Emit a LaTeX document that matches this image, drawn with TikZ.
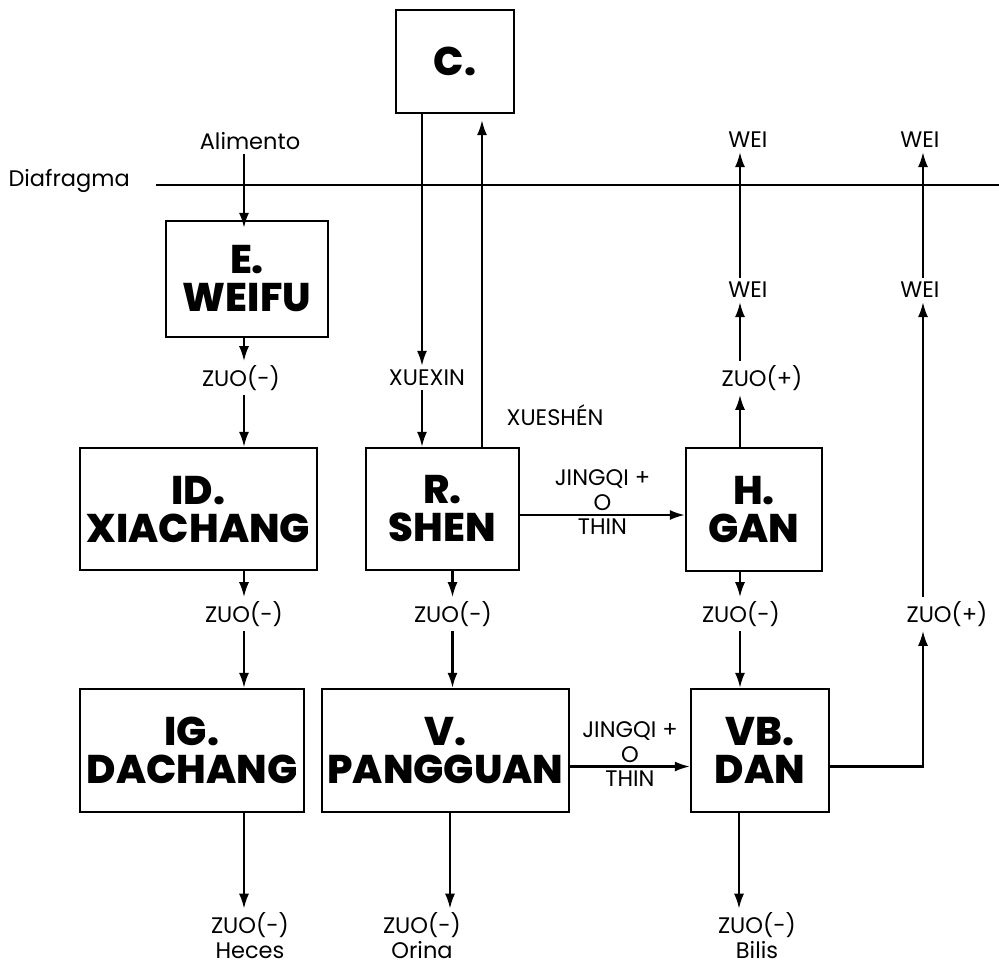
\documentclass[tikz,border=0pt]{standalone}
\usepackage{fontspec}
\setmainfont{Poppins}
\newfontfamily\boxfont{Poppins ExtraBold}
\usetikzlibrary{arrows.meta, positioning, calc}

\begin{document}
\begin{tikzpicture}[
        x=1pt, y=-1pt,
        box/.style={rectangle, draw=black, line width=2.2pt, fill=none, align=center, inner sep=0pt,
            font=\boxfont\fontsize{40}{38}\selectfont},
        lbl/.style={align=center, inner sep=4pt, font=\fontsize{22.5}{25}\selectfont},
        arrow/.style={-{Latex[length=15pt,width=10pt]}, draw=black, line width=2.2pt}
    ]
        \useasboundingbox (0,0) rectangle (999,967);

        % boxes
        \node[box, minimum width=118pt, minimum height=103pt] (heart) at (455,61.5) {C.};
        \node[box, minimum width=162pt, minimum height=116pt] (weifu) at (247,279) {E.\\WEIFU};
        \node[box, minimum width=237pt, minimum height=122pt] (xiachang) at (198.5,509) {ID.\\XIACHANG};
        \node[box, minimum width=153pt, minimum height=122pt] (shen) at (442.5,509) {R.\\SHEN};
        \node[box, minimum width=136pt, minimum height=123pt] (gan) at (754,509.5) {H.\\GAN};
        \node[box, minimum width=224pt, minimum height=123pt] (dachang) at (192,750.5) {IG.\\DACHANG};
        \node[box, minimum width=247pt, minimum height=123pt] (pangguan) at (445.5,750.5) {V.\\PANGGUAN};
        \node[box, minimum width=138pt, minimum height=123pt] (dan) at (760,750.5) {VB.\\DAN};

        % labels
        \node[lbl, anchor=east] (diafragma) at (134,181) {Diafragma};
        \node[lbl] (alimento) at (250,141) {Alimento};
        \node[lbl] (weiTopA) at (748,140) {WEI};
        \node[lbl] (weiTopB) at (920,140) {WEI};
        \node[lbl] (weiMidA) at (748,290) {WEI};
        \node[lbl] (weiMidB) at (920,290) {WEI};
        \node[lbl] (zuoGanUp) at (762,378) {ZUO(+)};
        \node[lbl] (zuoWeifu) at (241,378) {ZUO(-)};
        \node[lbl] (xuexin) at (427,378) {XUEXIN};
        \node[lbl] (xueshen) at (555,415) {XUESHÉN};
        \node[lbl] (zuoXia) at (244,614) {ZUO(-)};
        \node[lbl] (zuoShen) at (453,614) {ZUO(-)};
        \node[lbl] (zuoGan) at (741,614) {ZUO(-)};
        \node[lbl] (zuoDanUp) at (947,614) {ZUO(+)};
        \node[lbl] (heces) at (250,936) {ZUO(-)\\Heces};
        \node[lbl] (orina) at (422,936) {ZUO(-)\\Orina};
        \node[lbl] (bilis) at (757,936) {ZUO(-)\\Bilis};
        \coordinate (diaEnd) at (999,185);

        % diaphragm
        \draw[line width=1.6pt] ([xshift=22pt]diafragma.east |- diaEnd) -- (diaEnd);

        % stomach / small / large intestine
        \draw[arrow] ([xshift=-3pt]weifu.north |- alimento.south) -- ([xshift=-3pt,yshift=-8pt]weifu.north);
        \draw[arrow] ([xshift=-3pt]weifu.south) -- ([xshift=-3pt]weifu.south |- zuoWeifu.north);
        \draw[arrow] ([xshift=-3pt]weifu.south |- zuoWeifu.south) -- ([xshift=-3pt]weifu.south |- xiachang.north);
        \draw[arrow] ([xshift=45.5pt]xiachang.south) -- ([xshift=45.5pt]xiachang.south |- zuoXia.north);
        \draw[arrow] ([xshift=45.5pt]xiachang.south |- zuoXia.south) -- ([xshift=45.5pt]xiachang.south |- dachang.north);
        \draw[arrow] ([xshift=52pt]dachang.south) -- ([xshift=52pt]dachang.south |- heces.north);

        % heart / kidney / bladder
        \draw[arrow] ([xshift=-33pt]heart.south) -- ([xshift=-33pt]heart.south |- xuexin.north);
        \draw[arrow] ([xshift=-20.5pt]shen.north |- xuexin.south) -- ([xshift=-20.5pt]shen.north);
        \draw[arrow] ([xshift=39.5pt]shen.north) -- ([xshift=39.5pt,yshift=-6pt]shen.north |- heart.south);
        \draw[arrow] ([xshift=10pt]shen.south) -- ([xshift=10pt]shen.south |- zuoShen.north);
        \draw[arrow] ([xshift=10pt]shen.south |- zuoShen.south) -- ([xshift=10pt]shen.south |- pangguan.north);
        \draw[arrow] ([xshift=4.5pt]pangguan.south) -- ([xshift=4.5pt]pangguan.south |- orina.north);

        % liver / gallbladder
        \draw[arrow] ([yshift=-6pt]shen.east) -- ([yshift=-6pt]shen.east -| gan.west)
            node[midway, above, lbl, inner sep=3pt] {JINGQI +\\O}
            node[midway, below, lbl, inner sep=3pt] {THIN};
        \draw[arrow] ([yshift=-16pt]pangguan.east) -- ([yshift=-16pt]pangguan.east -| dan.west)
            node[midway, above, lbl, inner sep=3pt] {JINGQI +\\O}
            node[midway, below, lbl, inner sep=3pt] {THIN};
        \draw[arrow] ([xshift=-14pt]gan.north) -- ([xshift=-14pt]gan.north |- zuoGanUp.south);
        \draw[arrow] ([xshift=-14pt]gan.north |- zuoGanUp.north) -- ([xshift=-14pt]gan.north |- weiMidA.south);
        \draw[arrow] ([xshift=-14pt]gan.north |- weiMidA.north) -- ([xshift=-14pt]gan.north |- weiTopA.south);
        \draw[arrow] ([xshift=-14pt]gan.south) -- ([xshift=-14pt]gan.south |- zuoGan.north);
        \draw[arrow] ([xshift=-14pt]gan.south |- zuoGan.south) -- ([xshift=-14pt]gan.south |- dan.north);
        \draw[arrow] ([xshift=-21pt]dan.south) -- ([xshift=-21pt]dan.south |- bilis.north);
        \draw[arrow] ([yshift=-16pt]dan.east) -| ([xshift=-24pt]zuoDanUp.south);
        \draw[arrow] ([xshift=-24pt]zuoDanUp.north) -- ([xshift=-24pt]zuoDanUp.north |- weiMidB.south);
        \draw[arrow] ([xshift=-24pt]zuoDanUp.north |- weiMidB.north) -- ([xshift=-24pt]zuoDanUp.north |- weiTopB.south);
    \end{tikzpicture}
\end{document}
